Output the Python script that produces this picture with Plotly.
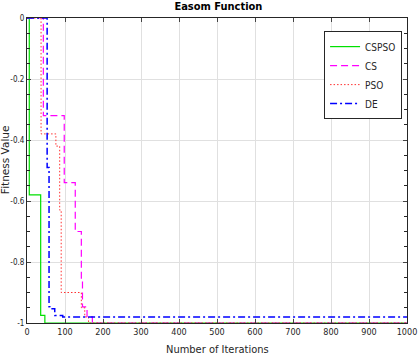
import plotly.graph_objects as go

# Breakpoints of the step curves (iteration, fitness value)
cspso_iter = [0, 6, 36, 47, 1000]
cspso_val = [0, -0.58, -0.975, -1.0, -1.0]

cs_iter = [0, 43, 98, 127, 143, 146, 158, 172, 1000]
cs_val = [0, -0.32, -0.54, -0.70, -0.86, -0.947, -0.98, -1.0, -1.0]

pso_iter = [0, 37, 76, 86, 90, 143, 152, 162, 1000]
pso_val = [0, -0.38, -0.42, -0.63, -0.90, -0.95, -0.98, -1.0, -1.0]

de_iter = [0, 53, 58, 60, 73, 94, 1000]
de_val = [0, -0.49, -0.947, -0.953, -0.975, -0.98, -0.98]

x_ticks = [0, 100, 200, 300, 400, 500, 600, 700, 800, 900, 1000]
y_ticks = [0, -0.2, -0.4, -0.6, -0.8, -1]
y_tick_labels = ["0", "-0.2", "-0.4", "-0.6", "-0.8", "-1"]

narrow = "DejaVu Sans Condensed, Liberation Sans Narrow, sans-serif"

fig = go.Figure()
fig.add_trace(go.Scatter(x=cspso_iter, y=cspso_val, mode="lines", name="CSPSO",
                         line=dict(color="#00e000", width=1.2, shape="hv")))
fig.add_trace(go.Scatter(x=cs_iter, y=cs_val, mode="lines", name="CS",
                         line=dict(color="#ff00ff", width=1.2, dash="7px,4px", shape="hv")))
fig.add_trace(go.Scatter(x=pso_iter, y=pso_val, mode="lines", name="PSO",
                         line=dict(color="#ff3030", width=1, dash="1.5px,2px", shape="hv")))
fig.add_trace(go.Scatter(x=de_iter, y=de_val, mode="lines", name="DE",
                         line=dict(color="#0000ff", width=1.5, dash="7px,3px,2px,3px", shape="hv")))

fig.update_layout(
    width=418, height=364,
    margin=dict(l=27, r=11, t=18, b=41),
    paper_bgcolor="white", plot_bgcolor="white",
    font=dict(family=narrow, size=10, color="#262626"),
    title=dict(text="<b>Easom Function</b>", x=0.5225, xanchor="center", y=0.993, yanchor="top",
               font=dict(family=narrow, size=11, color="black")),
    showlegend=True,
    legend=dict(x=0.987, y=0.957, xanchor="right", yanchor="top",
                bgcolor="white", bordercolor="#262626", borderwidth=1,
                font=dict(family=narrow, size=10, color="#262626"),
                tracegroupgap=0, itemwidth=30),
    annotations=[
        dict(text="Fitness Value", textangle=-90, xref="paper", yref="paper",
             x=0, y=0.534, xanchor="center", yanchor="middle", xshift=-22, showarrow=False,
             font=dict(family="DejaVu Sans, sans-serif", size=10.5, color="#262626")),
        dict(text="Number of Iterations", xref="paper", yref="paper",
             x=0.5, y=0, xanchor="center", yanchor="middle", yshift=-26, showarrow=False,
             font=dict(family=narrow, size=11, color="#262626")),
    ],
)
fig.update_xaxes(
    range=[0, 1000], tickvals=x_ticks, ticks="inside", ticklen=4, automargin=False,
    ticklabeloverflow="allow",
    showline=True, linecolor="#262626", linewidth=1, mirror="ticks",
    showgrid=True, gridcolor="#e0e0e0", gridwidth=1, zeroline=False,
    tickfont=dict(family=narrow, size=9),
)
fig.update_yaxes(
    range=[-1, 0], tickvals=y_ticks, ticktext=y_tick_labels, ticks="inside", ticklen=4,
    automargin=False, ticklabeloverflow="allow", ticklabelstandoff=0,
    showline=True, linecolor="#262626", linewidth=1, mirror="ticks",
    showgrid=True, gridcolor="#e0e0e0", gridwidth=1, zeroline=False,
    minor=dict(dtick=0.05, ticks="inside", ticklen=3, tickcolor="#262626", showgrid=False),
    tickfont=dict(family=narrow, size=8),
)
fig.write_html("out.html", config={"displayModeBar": False},
               post_script="document.body.style.margin='0';")
